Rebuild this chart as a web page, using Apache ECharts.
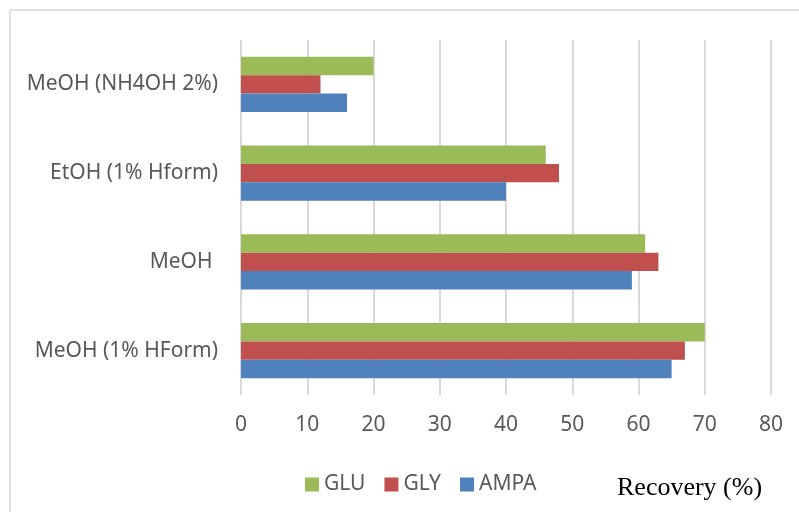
<!DOCTYPE html>
<html>
<head>
<meta charset="utf-8">
<script src="https://cdn.jsdelivr.net/npm/echarts@6/dist/echarts.min.js"></script>
<style>
  html, body { margin: 0; padding: 0; background: #fff; }
  #chart { width: 799px; height: 512px; }
</style>
</head>
<body>
<div id="chart"></div>
<script>
// categories bottom -> top (ECharts draws first category at the bottom)
const categories = ["MeOH (1% HForm)", "MeOH ", "EtOH (1% Hform)", "MeOH (NH4OH 2%)"];
const glu = [70, 61, 46, 20];
const gly = [67, 63, 48, 12];
const ampa = [65, 59, 40, 16];
const xTicks = [0, 10, 20, 30, 40, 50, 60, 70, 80];

const labelFont = "'Noto Sans', 'Open Sans', sans-serif";

const chart = echarts.init(document.getElementById("chart"));
let option = {
  animation: false,
  backgroundColor: "#fff",
  grid: { left: 241, right: 28, top: 40, bottom: 117 },
  legend: {
    data: ["GLU", "GLY", "AMPA"],
    left: 300,
    top: 469,
    itemWidth: 14,
    itemHeight: 14,
    itemGap: 19,
    icon: "rect",
    textStyle: { color: "#595959", fontSize: 21, fontFamily: labelFont }
  },
  xAxis: {
    type: "value",
    min: xTicks[0],
    max: xTicks[xTicks.length - 1],
    interval: 10,
    axisLine: { show: false },
    axisTick: { show: false },
    axisLabel: { color: "#595959", fontSize: 21, fontFamily: labelFont, margin: 20 },
    splitLine: { show: true, lineStyle: { color: "#d9d9d9", width: 2 } }
  },
  yAxis: {
    type: "category",
    data: categories,
    axisLine: { show: false },
    axisTick: { show: false },
    axisLabel: { color: "#595959", fontSize: 21, fontFamily: labelFont, margin: 23 }
  },
  graphic: [
    {
      type: "rect",
      shape: { x: 10, y: 10, width: 820, height: 540 },
      style: { fill: "none", stroke: "#d9d9d9", lineWidth: 1.5 },
      silent: true
    },
    {
      type: "text",
      left: 617,
      top: 475,
      style: { text: "Recovery (%)", fill: "#000", font: "26px 'Liberation Serif', 'Times New Roman', serif" }
    }
  ],
  // first series is drawn at the top of each category band
  series: [
    { name: "GLU", type: "bar", data: glu, barGap: "0%", barCategoryGap: "38%", itemStyle: { color: "#9bbb59" } },
    { name: "GLY", type: "bar", data: gly, barGap: "0%", barCategoryGap: "38%", itemStyle: { color: "#c0504d" } },
    { name: "AMPA", type: "bar", data: ampa, barGap: "0%", barCategoryGap: "38%", itemStyle: { color: "#4f81bd" } }
  ]
};
chart.setOption(option);
</script>
</body>
</html>
